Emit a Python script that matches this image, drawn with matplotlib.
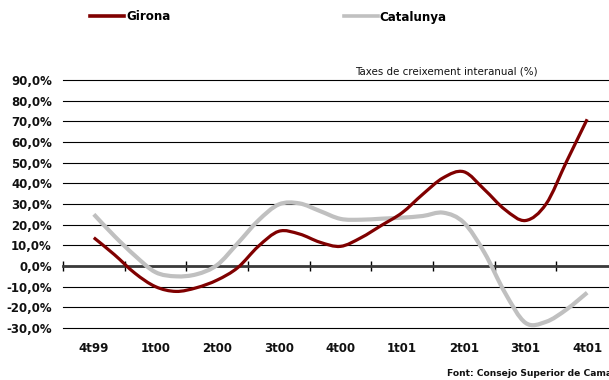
import matplotlib
matplotlib.use("Agg")
import matplotlib.pyplot as plt
from matplotlib.lines import Line2D
from matplotlib.path import Path
from matplotlib.patches import PathPatch
from matplotlib.ticker import FixedLocator, FuncFormatter
import numpy as np

# Quarter labels on the category axis
quarters = ["4t99", "1t00", "2t00", "3t00", "4t00", "1t01", "2t01", "3t01", "4t01"]

# Monthly year-on-year growth rates (%), from 4t99 to 4t01
girona = [13.7, 5.5, -3.5, -10.0, -12.3, -10.5, -6.8, -0.8, 9.5, 16.8, 15.5, 11.5,
          9.5, 13.7, 19.7, 25.8, 34.7, 42.7, 45.6, 37.0, 27.3, 22.0, 30.0, 50.6, 71.0]
catalunya = [25.0, 14.5, 5.0, -3.0, -5.0, -4.0, 0.5, 11.0, 22.0, 29.8, 30.3, 26.6,
             22.8, 22.4, 22.9, 23.4, 24.2, 25.8, 21.0, 6.5, -12.9, -27.5, -27.0, -21.0, -12.9]

y_ticks = list(range(-30, 100, 10))

title = "Taxes de creixement interanual (%)"
source = "Font: Consejo Superior de Camaras"

red = "#800000"
grey = "#C0C0C0"


def smooth_path(x, y):
    """Cubic Bezier path through every point (smoothed line style)."""
    pts = np.column_stack([x, y]).astype(float)
    ext = np.vstack([pts[0], pts, pts[-1]])
    verts = [pts[0]]
    codes = [Path.MOVETO]
    for i in range(len(pts) - 1):
        p0, p1, p2, p3 = ext[i], ext[i + 1], ext[i + 2], ext[i + 3]
        c1 = p1 + (p2 - p0) / 6.0
        c2 = p2 - (p3 - p1) / 6.0
        verts += [c1, c2, p2]
        codes += [Path.CURVE4] * 3
    return Path(verts, codes)


fig = plt.figure(figsize=(6.09, 3.80), dpi=100)
ax = fig.add_axes([63 / 609, 1 - 328 / 380, (618 - 63) / 609, (328 - 80) / 380])

x_months = np.arange(len(girona)) / 3.0
for series, color, lw, z in [(catalunya, grey, 3.0, 3), (girona, red, 2.3, 4)]:
    ax.add_patch(PathPatch(smooth_path(x_months, series), fill=False,
                           edgecolor=color, lw=lw, joinstyle="round",
                           capstyle="butt", zorder=z))

ax.set_xlim(-0.5, len(quarters) - 0.5)
ax.set_ylim(min(y_ticks), max(y_ticks))

# Horizontal gridlines, no frame except the category axis through zero
for s in ["top", "right", "left"]:
    ax.spines[s].set_visible(False)
ax.spines["bottom"].set_position(("data", 0))
ax.spines["bottom"].set_color("#3a3a3a")
ax.spines["bottom"].set_linewidth(2.0)
ax.spines["bottom"].set_zorder(2)

ax.yaxis.set_major_locator(FixedLocator(y_ticks))
ax.yaxis.set_major_formatter(FuncFormatter(lambda v, p: f"{v:.1f}%".replace(".", ",")))
ax.yaxis.grid(True, color="black", lw=0.8)
for gl in ax.get_ygridlines():
    gl.set_clip_on(False)
ax.set_axisbelow(True)
ax.tick_params(axis="y", length=0, pad=8, labelsize=8.5)

ax.xaxis.set_major_locator(FixedLocator(range(len(quarters))))
ax.set_xticklabels(quarters)
ax.xaxis.set_minor_locator(FixedLocator(np.arange(-0.5, len(quarters), 1.0)))
ax.tick_params(axis="x", which="major", length=0, pad=55, labelsize=8.5)
ax.tick_params(axis="x", which="minor", length=7, width=1.0, direction="inout",
               color="black")

for lab in ax.get_yticklabels() + ax.get_xticklabels():
    lab.set_fontweight("bold")
    lab.set_color("#111111")

fig.text(355 / 609, 1 - 72 / 380, title, fontsize=7.4, ha="left", va="center",
         color="#111111")
fig.text(447 / 609, 1 - 374 / 380, source, fontsize=6.6, ha="left", va="center",
         fontweight="bold", color="#111111")

handles = [Line2D([], [], color=red, lw=2.6), Line2D([], [], color=grey, lw=2.6)]
fig.legend(handles, ["Girona", "Catalunya"], ncol=2, frameon=False,
           loc="center left", bbox_to_anchor=(90 / 609, 1 - 17 / 380),
           borderaxespad=0, borderpad=0,
           handlelength=2.85, handletextpad=0.17, columnspacing=14.5,
           prop={"size": 8.6, "weight": "bold"})

fig.savefig("out.png", dpi=100)
